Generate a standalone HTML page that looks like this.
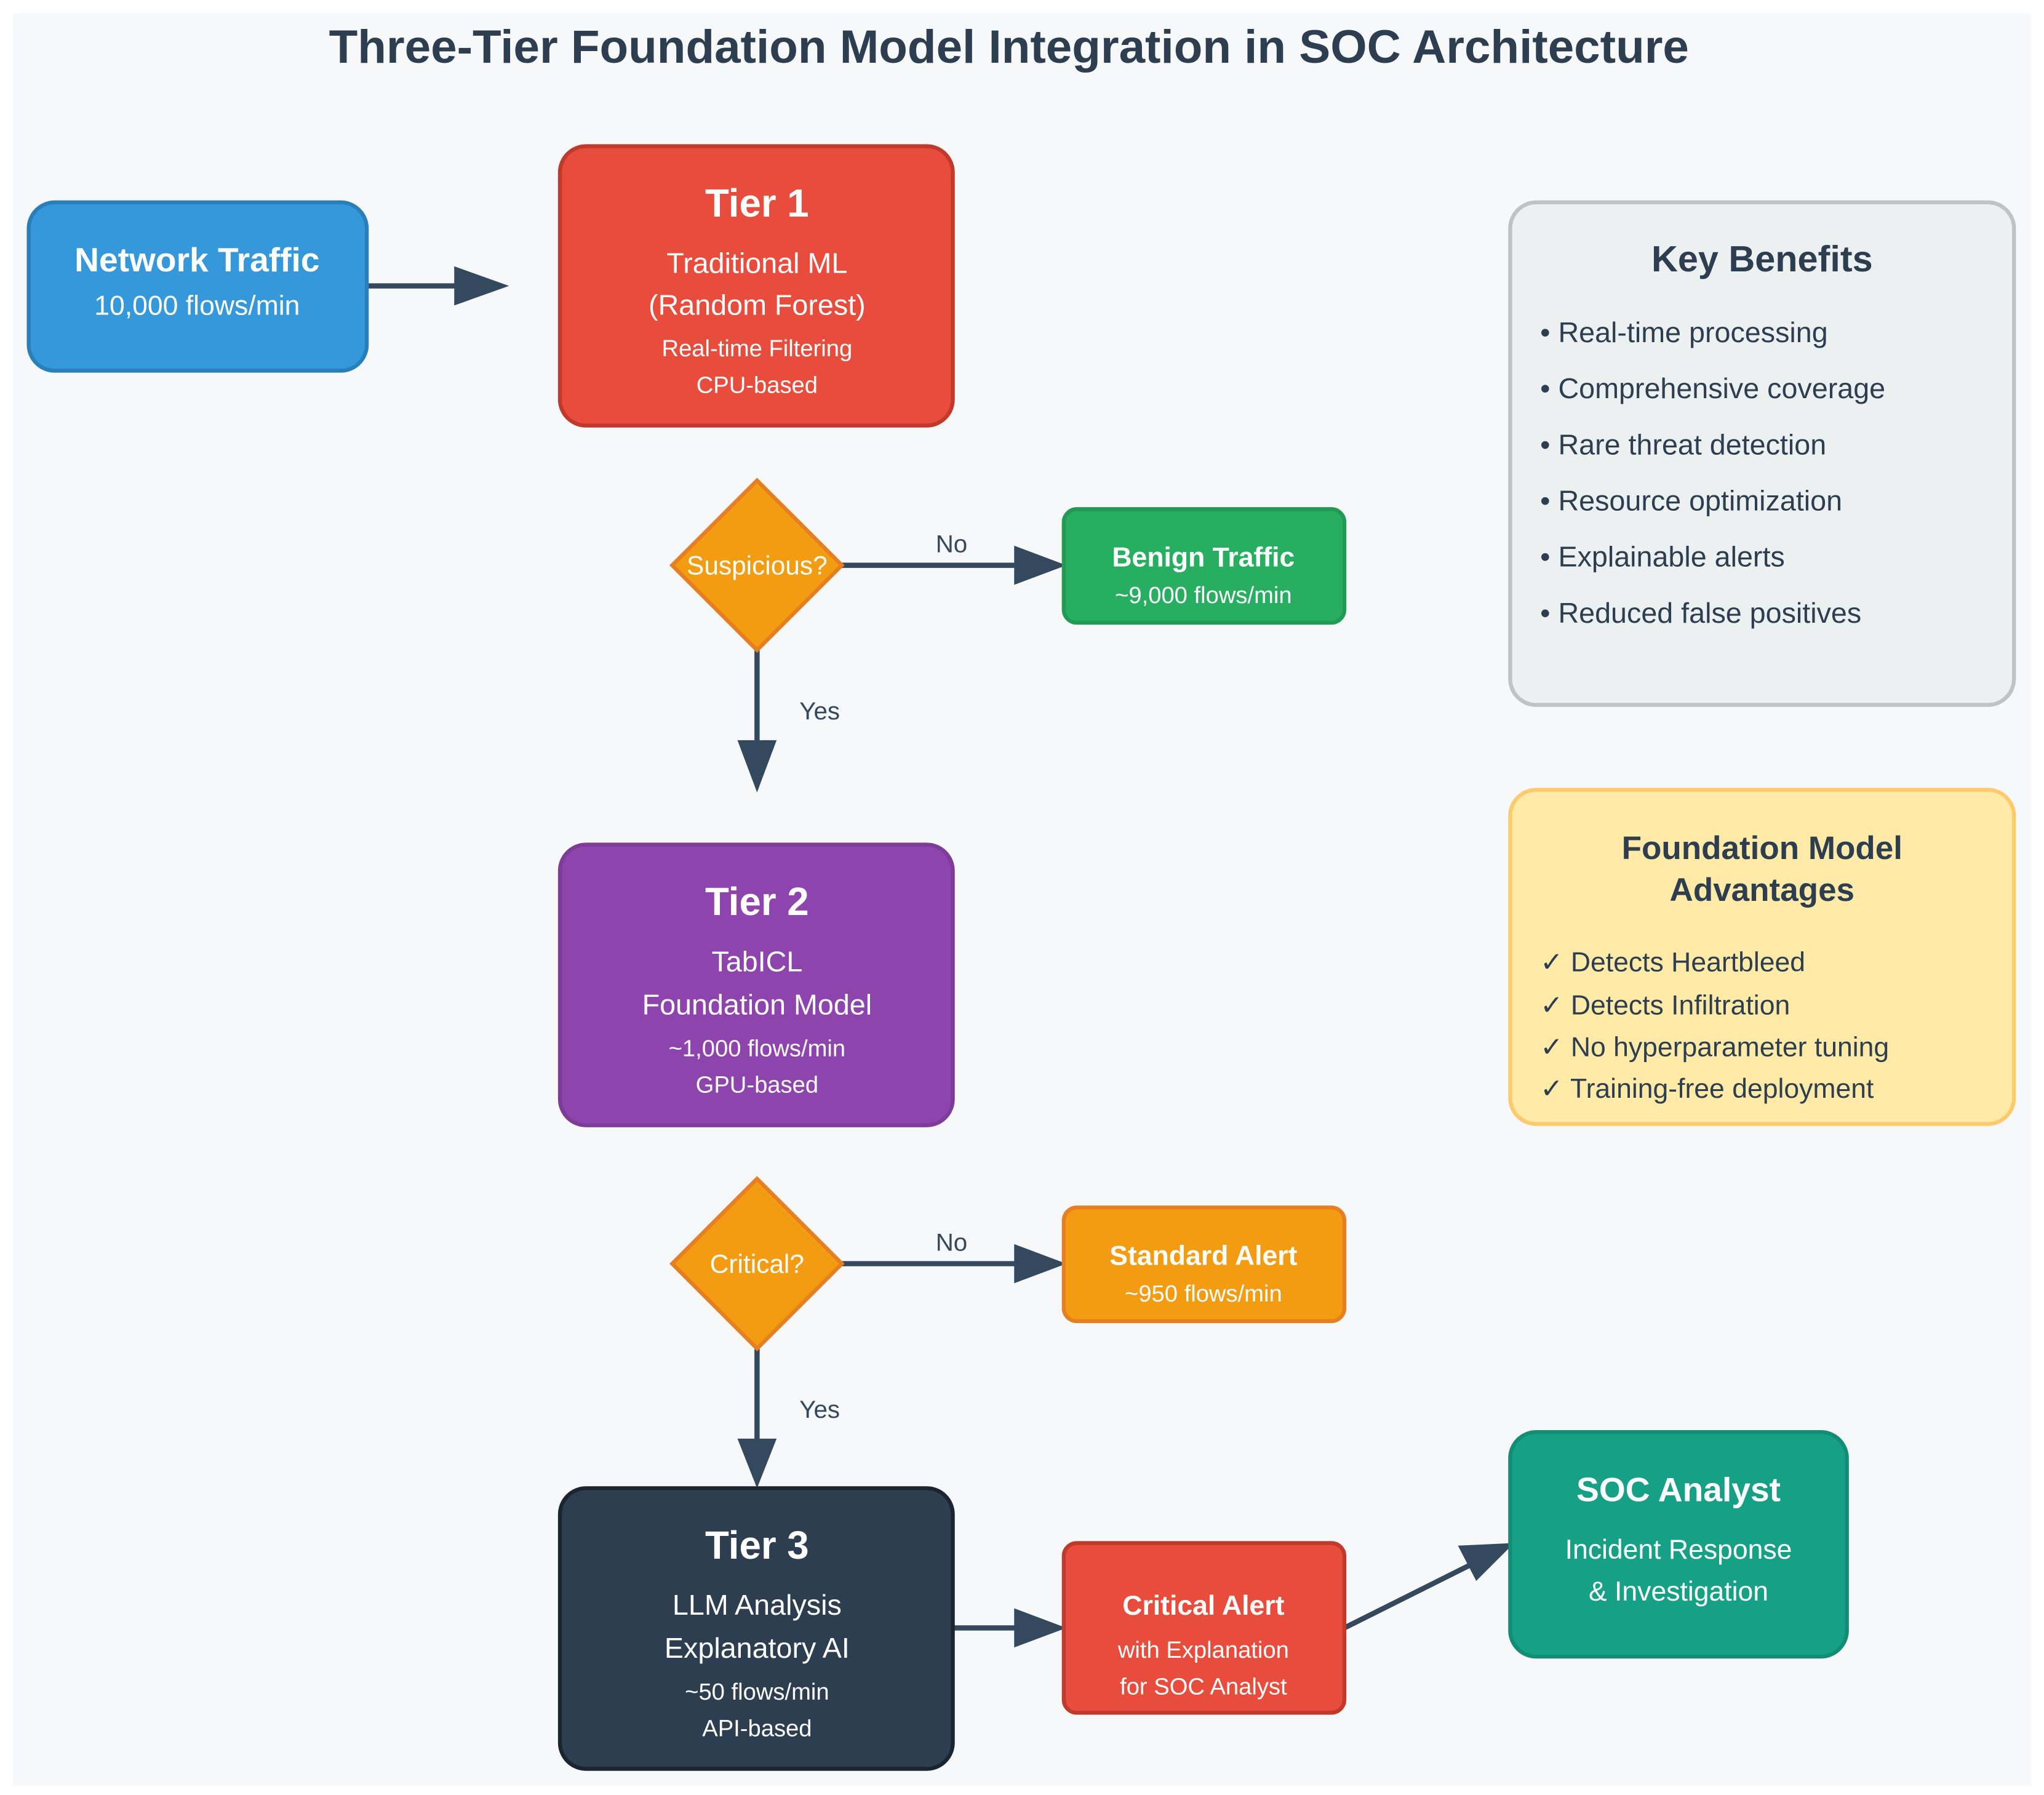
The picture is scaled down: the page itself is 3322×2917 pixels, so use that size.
<!DOCTYPE html>
<html><head><meta charset="utf-8"><style>html,body{margin:0;padding:0;background:#fff}svg{display:block}text{font-family:"Liberation Sans",sans-serif}</style></head><body>
<svg width="3322" height="2917" viewBox="0 0 1566 1375" preserveAspectRatio="none" xmlns="http://www.w3.org/2000/svg">
<rect x="0" y="0" width="1566" height="1375" fill="#fff"/>
<rect x="10" y="10" width="1546" height="1358" fill="#f7f8fa"/>
<text x="773" y="48" text-anchor="middle" font-size="36" font-weight="bold" fill="#2c3e50">Three-Tier Foundation Model Integration in SOC Architecture</text>
<g fill="#34495e" stroke="#34495e">
<line x1="281" y1="219" x2="352" y2="219" stroke-width="4"/><polygon points="348,204 390,219 348,234" stroke="none"/>
<line x1="645" y1="433" x2="780" y2="433" stroke-width="4"/><polygon points="777,418 817,433 777,448" stroke="none"/>
<line x1="580" y1="498" x2="580" y2="570" stroke-width="4"/><polygon points="565,567 580,607 595,567" stroke="none"/>
<line x1="645" y1="968" x2="780" y2="968" stroke-width="4"/><polygon points="777,953 817,968 777,983" stroke="none"/>
<line x1="580" y1="1033" x2="580" y2="1105" stroke-width="4"/><polygon points="565,1102 580,1140 595,1102" stroke="none"/>
<line x1="730" y1="1247" x2="780" y2="1247" stroke-width="4"/><polygon points="777,1232 817,1247 777,1262" stroke="none"/>
<line x1="1030" y1="1247" x2="1128" y2="1198" stroke-width="4"/><polygon points="1117,1184 1160,1182 1131,1211" stroke="none"/>
</g>
<g font-size="19" fill="#34495e"><text x="729" y="423" text-anchor="middle">No</text><text x="729" y="958" text-anchor="middle">No</text><text x="628" y="551" text-anchor="middle">Yes</text><text x="628" y="1086" text-anchor="middle">Yes</text></g>
<g fill="#fff" text-anchor="middle">
<rect x="22" y="155" width="259" height="129" rx="20" fill="#3498db" stroke="#2980b9" stroke-width="3"/>
<text x="151" y="208" font-size="26" font-weight="bold">Network Traffic</text><text x="151" y="241" font-size="21">10,000 flows/min</text>
<rect x="429" y="112" width="301" height="214" rx="20" fill="#e74c3c" stroke="#c0392b" stroke-width="3"/>
<text x="580" y="166" font-size="30" font-weight="bold">Tier 1</text><text x="580" y="209" font-size="22">Traditional ML</text><text x="580" y="241" font-size="22">(Random Forest)</text><text x="580" y="273" font-size="18">Real-time Filtering</text><text x="580" y="301" font-size="18">CPU-based</text>
<polygon points="580,368 645,433 580,498 515,433" fill="#f39c12" stroke="#e67e22" stroke-width="3"/>
<text x="580" y="440" font-size="20">Suspicious?</text>
<rect x="815" y="390" width="215" height="87" rx="10" fill="#27ae60" stroke="#229954" stroke-width="3"/>
<text x="922" y="434" font-size="21" font-weight="bold">Benign Traffic</text><text x="922" y="462" font-size="18">~9,000 flows/min</text>
<rect x="429" y="647" width="301" height="215" rx="20" fill="#8e44ad" stroke="#7d3c98" stroke-width="3"/>
<text x="580" y="701" font-size="30" font-weight="bold">Tier 2</text><text x="580" y="744" font-size="22">TabICL</text><text x="580" y="777" font-size="22">Foundation Model</text><text x="580" y="809" font-size="18">~1,000 flows/min</text><text x="580" y="837" font-size="18">GPU-based</text>
<polygon points="580,903 645,968 580,1033 515,968" fill="#f39c12" stroke="#e67e22" stroke-width="3"/>
<text x="580" y="975" font-size="20">Critical?</text>
<rect x="815" y="925" width="215" height="87" rx="10" fill="#f39c12" stroke="#e67e22" stroke-width="3"/>
<text x="922" y="969" font-size="21" font-weight="bold">Standard Alert</text><text x="922" y="997" font-size="18">~950 flows/min</text>
<rect x="429" y="1140" width="301" height="215" rx="20" fill="#2c3e50" stroke="#1a252f" stroke-width="3"/>
<text x="580" y="1194" font-size="30" font-weight="bold">Tier 3</text><text x="580" y="1237" font-size="22">LLM Analysis</text><text x="580" y="1270" font-size="22">Explanatory AI</text><text x="580" y="1302" font-size="18">~50 flows/min</text><text x="580" y="1330" font-size="18">API-based</text>
<rect x="815" y="1182" width="215" height="130" rx="10" fill="#e74c3c" stroke="#c0392b" stroke-width="3"/>
<text x="922" y="1237" font-size="21" font-weight="bold">Critical Alert</text><text x="922" y="1270" font-size="18">with Explanation</text><text x="922" y="1298" font-size="18">for SOC Analyst</text>
<rect x="1157" y="1097" width="258" height="172" rx="20" fill="#16a085" stroke="#138d75" stroke-width="3"/>
<text x="1286" y="1150" font-size="26" font-weight="bold">SOC Analyst</text><text x="1286" y="1194" font-size="21">Incident Response</text><text x="1286" y="1226" font-size="21">&amp; Investigation</text>
</g>
<rect x="1157" y="155" width="386" height="385" rx="20" fill="#ecf0f1" stroke="#bdc3c7" stroke-width="3"/>
<text x="1350" y="208" text-anchor="middle" font-size="28" font-weight="bold" fill="#2c3e50">Key Benefits</text>
<g font-size="22" fill="#2c3e50"><text x="1180" y="262">• Real-time processing</text><text x="1180" y="305">• Comprehensive coverage</text><text x="1180" y="348">• Rare threat detection</text><text x="1180" y="391">• Resource optimization</text><text x="1180" y="434">• Explainable alerts</text><text x="1180" y="477">• Reduced false positives</text></g>
<rect x="1157" y="605" width="386" height="256" rx="20" fill="#ffeaa7" stroke="#fdcb6e" stroke-width="3"/>
<text x="1350" y="658" text-anchor="middle" font-size="25" font-weight="bold" fill="#2c3e50">Foundation Model</text>
<text x="1350" y="690" text-anchor="middle" font-size="25" font-weight="bold" fill="#2c3e50">Advantages</text>
<g font-size="21" fill="#2c3e50"><text x="1180" y="744">✓ Detects Heartbleed</text><text x="1180" y="777">✓ Detects Infiltration</text><text x="1180" y="809">✓ No hyperparameter tuning</text><text x="1180" y="841">✓ Training-free deployment</text></g>
</svg>
</body></html>
